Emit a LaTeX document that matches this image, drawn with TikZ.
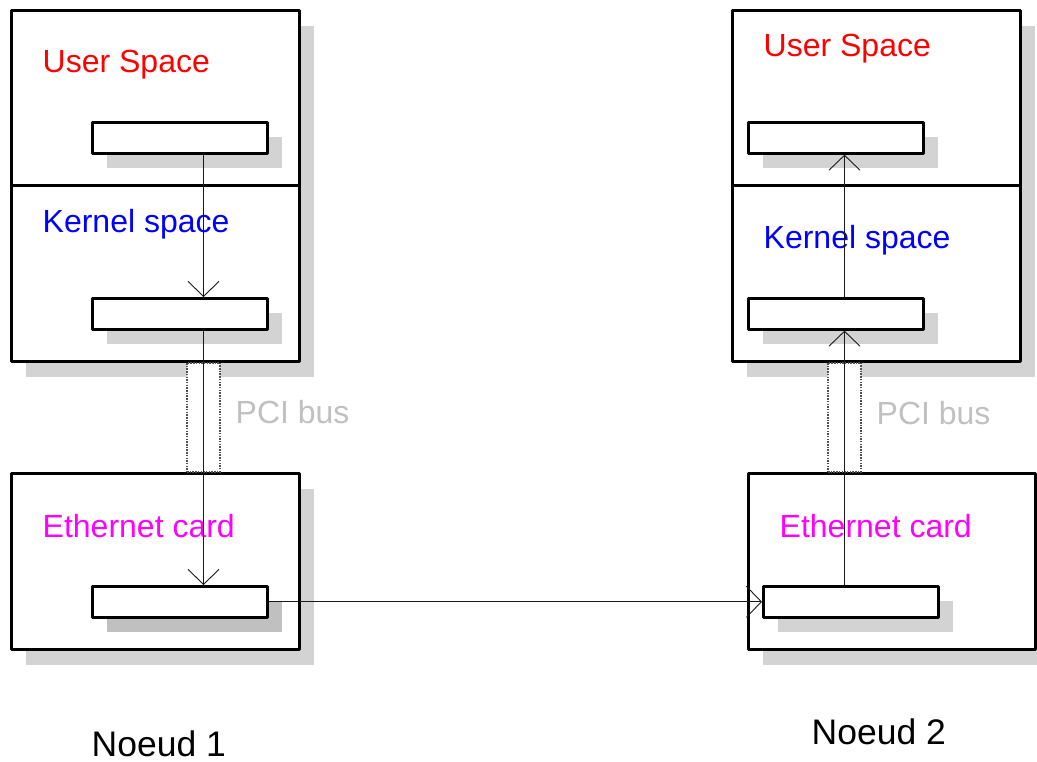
\documentclass[tikz,border=0pt]{standalone}
\usepackage{fontspec}
\setmainfont{Liberation Sans}
\usetikzlibrary{arrows.meta,shadows}

\definecolor{shade}{RGB}{211,211,211}
\definecolor{shadedark}{RGB}{192,192,192}
\definecolor{busgray}{RGB}{192,192,192}
\definecolor{busedge}{RGB}{80,80,80}
\definecolor{usercol}{RGB}{255,0,0}
\definecolor{kernelcol}{RGB}{0,0,255}
\definecolor{cardcol}{RGB}{255,0,255}

\tikzset{
  layer/.style={draw=black, line width=2.6pt, line join=round, fill=white,
    inner sep=0pt, anchor=north west, minimum width=288pt,
    drop shadow={shadow xshift=15pt, shadow yshift=-16pt, fill=shade, opacity=1}},
  slot/.style={draw=black, line width=2.6pt, line join=round, fill=white,
    inner sep=0pt, anchor=north west, minimum width=175pt, minimum height=31pt,
    drop shadow={shadow xshift=15pt, shadow yshift=-15pt, fill=shade, opacity=1}},
  darkslot/.style={slot,
    drop shadow={shadow xshift=15pt, shadow yshift=-15pt, fill=shadedark, opacity=1}},
  bus/.style={draw=busedge, line width=2pt, dash pattern=on 1.5pt off 1.2pt,
    fill=white, inner sep=0pt, anchor=north west,
    minimum width=33pt, minimum height=109pt},
  lbl/.style={anchor=base west, inner sep=0pt,
    font=\fontsize{32pt}{38pt}\selectfont},
  nodelbl/.style={anchor=base west, inner sep=0pt,
    font=\fontsize{35.5pt}{42pt}\selectfont},
  arr/.style={draw=black!90, line width=0.9pt,
    -{Straight Barb[length=15pt,width=31pt,line width=0.9pt]}},
}

\begin{document}
\begin{tikzpicture}[x=1pt,y=-1pt]
\useasboundingbox (0,0) rectangle (1037,762);
\clip (0,0) rectangle (1037,762);

% ---------- Noeud 1 ----------
\node[layer, minimum height=175pt] (us1) at (10,9) {};
\node[layer, minimum height=176pt] (ks1) at (10,184) {};
\node[layer, minimum height=176pt] (ec1) at (10,472) {};
\node[slot] (ui1) at (91,121) {};
\node[slot] (ki1) at (91,297) {};
\node[darkslot] (ei1) at (91,585) {};
\node[bus] (pci1) at (186,361.5) {};

% ---------- Noeud 2 ----------
\node[layer, minimum height=175pt] (us2) at (731,9) {};
\node[layer, minimum height=176pt] (ks2) at (731,184) {};
\node[layer, minimum height=176pt, minimum width=287pt] (ec2) at (747,472) {};
\node[slot] (ui2) at (747,121) {};
\node[slot] (ki2) at (747,297) {};
\node[slot] (ei2) at (762,585) {};
\node[bus] (pci2) at (827,361.5) {};

% ---------- labels ----------
\node[lbl, text=usercol]   (tus1) at (42.5,73)  {User Space};
\node[lbl, text=kernelcol] (tks1) at (42.5,233) {Kernel space};
\node[lbl, text=cardcol]   (tec1) at (42.5,537) {Ethernet card};
\node[lbl, text=busgray]   (tpci1) at (235.5,423) {PCI bus};

\node[lbl, text=usercol]   (tus2) at (763.5,57)  {User Space};
\node[lbl, text=kernelcol] (tks2) at (763.5,249) {Kernel space};
\node[lbl, text=cardcol]   (tec2) at (779.5,537) {Ethernet card};
\node[lbl, text=busgray]   (tpci2) at (876.5,424) {PCI bus};

\node[nodelbl] (n1) at (91.5,756) {Noeud 1};
\node[nodelbl] (n2) at (811.5,744) {Noeud 2};

% ---------- data path ----------
\draw[arr] (ui1.south -| pci1.center) -- (ki1.north -| pci1.center);
\draw[arr] (ki1.south -| pci1.center) -- (ei1.north -| pci1.center);
\draw[arr] (ei1.east) -- (ei2.west |- ei1.east);
\draw[arr] (ei2.north -| pci2.center) -- (ki2.south -| pci2.center);
\draw[arr] (ki2.north -| pci2.center) -- (ui2.south -| pci2.center);
\end{tikzpicture}
\end{document}
